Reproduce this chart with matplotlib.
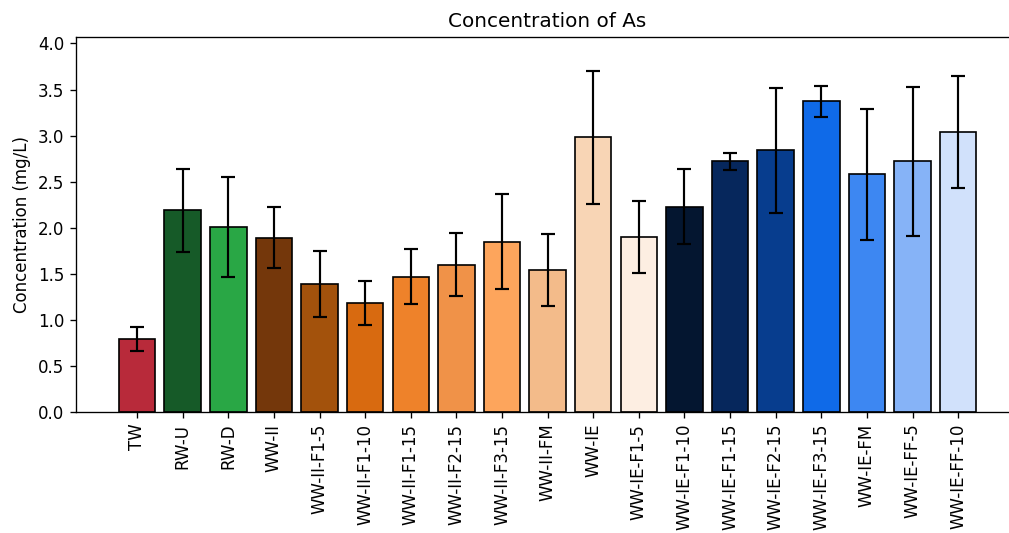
import numpy as np
import matplotlib
matplotlib.use("Agg")
import matplotlib.pyplot as plt

# Muestras y concentraciones medias de As (mg/L) con su desviación
muestras = ["TW", "RW-U", "RW-D", "WW-II", "WW-II-F1-5", "WW-II-F1-10",
            "WW-II-F1-15", "WW-II-F2-15", "WW-II-F3-15", "WW-II-FM", "WW-IE",
            "WW-IE-F1-5", "WW-IE-F1-10", "WW-IE-F1-15", "WW-IE-F2-15",
            "WW-IE-F3-15", "WW-IE-FM", "WW-IE-FF-5", "WW-IE-FF-10"]
medias = [0.79, 2.19, 2.01, 1.89, 1.39, 1.18, 1.47, 1.60, 1.85, 1.54, 2.98,
          1.90, 2.23, 2.72, 2.84, 3.37, 2.58, 2.72, 3.04]
desviaciones = [0.13, 0.45, 0.54, 0.33, 0.36, 0.24, 0.30, 0.34, 0.52, 0.39, 0.72,
                0.39, 0.41, 0.09, 0.68, 0.17, 0.71, 0.81, 0.61]
colores = ["#b82a3a", "#165a28", "#29a745", "#74370b", "#a3520c", "#d86a10",
           "#ee822a", "#f09248", "#fda55c", "#f3bb8a", "#f8d5b5", "#fdeee2",
           "#041630", "#06275c", "#073d8e", "#0f6ae8", "#3d87f2", "#86b3f7",
           "#d1e1fb"]

fig = plt.figure(figsize=(1010 / 120, 533 / 120), dpi=120)
ax = fig.add_axes([0.0752, 0.227, 0.934, 0.7036])

x = np.arange(len(muestras))
ax.bar(x, medias, width=0.8, color=colores, edgecolor="black",
       yerr=desviaciones, capsize=4.4,
       error_kw={"elinewidth": 1.3, "capthick": 1.3, "ecolor": "black"})

ax.set_xticks(x)
ax.set_xticklabels(muestras, rotation=90)
ax.set_ylim(0, max(np.array(medias) + np.array(desviaciones)) * 1.1)
ax.set_yticks(np.arange(0, 4.01, 0.5))
ax.set_ylabel("Concentration (mg/L)")
ax.set_title("Concentration of As")

plt.savefig("out.png", dpi=120)
